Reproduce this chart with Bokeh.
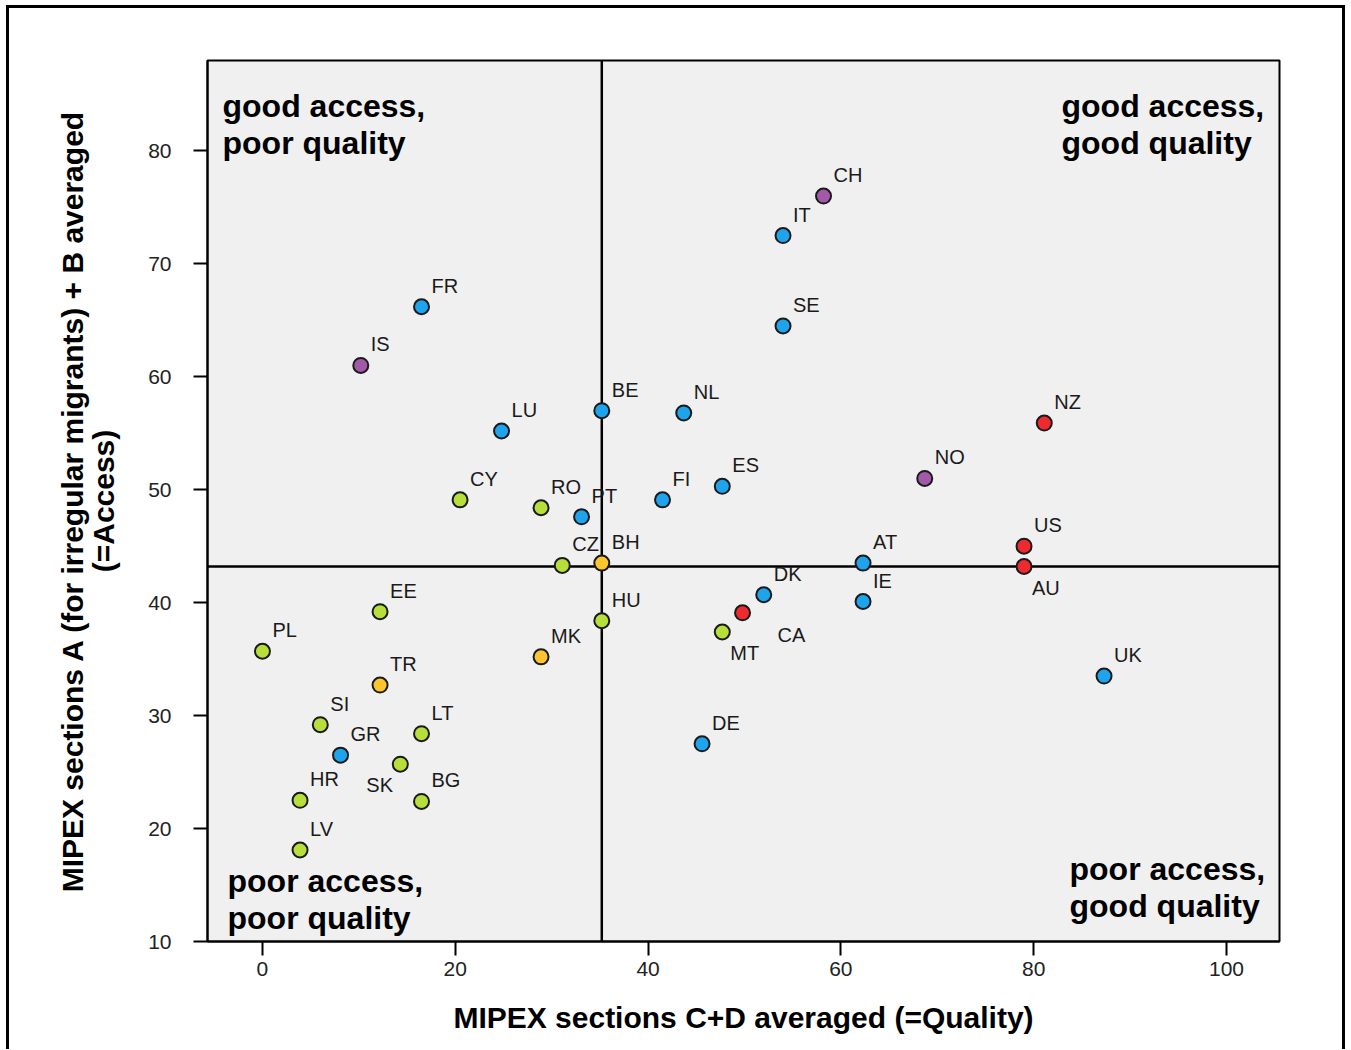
from bokeh.plotting import figure
from bokeh.models import Range1d, FixedTicker, ColumnDataSource, Span
from bokeh.core.properties import value
from bokeh.embed import file_html
from bokeh.resources import INLINE

# ---- data ----
countries = ["CH", "IT", "SE", "FR", "IS", "BE", "NL", "LU", "NZ", "NO",
             "ES", "FI", "CY", "RO", "PT", "US", "AT", "CZ", "BH", "AU",
             "DK", "IE", "EE", "CA", "HU", "MT", "PL", "MK", "UK", "TR",
             "SI", "LT", "GR", "DE", "SK", "HR", "BG", "LV"]
quality = [58.2, 54.0, 54.0, 16.5, 10.2, 35.2, 43.7, 24.8, 81.1, 68.7,
           47.7, 41.5, 20.5, 28.9, 33.1, 79.0, 62.3, 31.1, 35.2, 79.0,
           52.0, 62.3, 12.2, 49.8, 35.2, 47.7, 0.0, 28.9, 87.3, 12.2,
           6.0, 16.5, 8.1, 45.6, 14.3, 3.9, 16.5, 3.9]
access = [76.0, 72.5, 64.5, 66.2, 61.0, 57.0, 56.8, 55.2, 55.9, 51.0,
          50.3, 49.1, 49.1, 48.4, 47.6, 45.0, 43.5, 43.3, 43.5, 43.2,
          40.7, 40.1, 39.2, 39.1, 38.4, 37.4, 35.7, 35.2, 33.5, 32.7,
          29.2, 28.4, 26.5, 27.5, 25.7, 22.5, 22.4, 18.1]
group = ["purple", "blue", "blue", "blue", "purple", "blue", "blue", "blue", "red", "purple",
         "blue", "blue", "green", "green", "blue", "red", "blue", "green", "orange", "red",
         "blue", "blue", "green", "red", "green", "green", "green", "orange", "blue", "orange",
         "green", "green", "blue", "blue", "green", "green", "green", "green"]
quality_threshold = 35.2
access_threshold = 43.2
x_ticks = [0, 20, 40, 60, 80, 100]
y_ticks = [10, 20, 30, 40, 50, 60, 70, 80]
quadrant_texts = ["good access,\npoor quality", "good access,\ngood quality",
                  "poor access,\npoor quality", "poor access,\ngood quality"]

# ---- style ----
palette = {"blue": "#1ea4ec", "purple": "#a25aa8", "green": "#b6df3a",
           "orange": "#fdc52d", "red": "#ee2a30"}
FONT = "Liberation Sans"

X0, X1 = -5.7, 105.5
Y0, Y1 = 10.0, 88.0
FW, FH = 1072, 881
px_x = (X1 - X0) / FW
px_y = (Y1 - Y0) / FH

# label offsets in pixels (right, up); default up-right
label_off = {"AU": (8, -21), "MT": (8, -21), "CA": (35, -22), "SK": (-34, -21)}
lx, ly = [], []
for c, q, a in zip(countries, quality, access):
    dx, dy = label_off.get(c, (10, 21))
    lx.append(q + dx * px_x)
    ly.append(a + dy * px_y)

src = ColumnDataSource(dict(x=quality, y=access, c=[palette[g] for g in group],
                            name=countries, lx=lx, ly=ly))

p = figure(width=1339, height=1044, output_backend="svg", toolbar_location=None,
           x_range=Range1d(X0, X1), y_range=Range1d(Y0, Y1),
           min_border_left=198, min_border_right=69, min_border_top=52, min_border_bottom=111)
p.margin = (5, 0, 0, 6)
p.styles = {"border-top": "3px solid black", "border-left": "3px solid black",
            "border-right": "3px solid black", "box-sizing": "border-box"}
p.background_fill_color = "#f0f0f0"
p.border_fill_color = "white"
p.outline_line_color = "black"
p.outline_line_width = 2
p.xgrid.visible = False
p.ygrid.visible = False

p.xaxis.ticker = FixedTicker(ticks=x_ticks)
p.yaxis.ticker = FixedTicker(ticks=y_ticks)
for ax in (p.xaxis[0], p.yaxis[0]):
    ax.major_tick_out = 14
    ax.major_tick_in = 0
    ax.minor_tick_out = 0
    ax.minor_tick_in = 0
    ax.major_tick_line_width = 2
    ax.major_tick_line_color = "black"
    ax.axis_line_color = "black"
    ax.axis_line_width = 2
    ax.major_label_text_font = FONT
    ax.major_label_text_font_size = "21px"
    ax.major_label_text_color = "#222222"
    ax.axis_label_text_font = FONT
    ax.axis_label_text_font_size = "30px"
    ax.axis_label_text_font_style = "bold"
    ax.axis_label_text_color = "black"
    ax.axis_label_text_line_height = 0.93
p.xaxis.major_label_standoff = 6
p.yaxis.major_label_standoff = 22
p.xaxis.axis_label = "MIPEX sections C+D averaged (=Quality)"
p.xaxis.axis_label_standoff = 22
p.yaxis.axis_label = "MIPEX sections A (for irregular migrants) + B averaged\n(=Access)"
p.yaxis.axis_label_standoff = 25

p.add_layout(Span(location=quality_threshold, dimension="height", line_color="black",
                  line_width=2.5, level="underlay"))
p.add_layout(Span(location=access_threshold, dimension="width", line_color="black",
                  line_width=2.5, level="underlay"))

p.scatter("x", "y", source=src, size=15, fill_color="c", line_color="#1a1a1a", line_width=2)
p.text("lx", "ly", text="name", source=src, text_font=value(FONT), text_font_size="20px",
       text_color="#1a1a1a", text_align="left", text_baseline="middle")

# quadrant labels (pixel anchors converted to data)
qx = [X0 + 15 * px_x, X0 + 854 * px_x, X0 + 20 * px_x, X0 + 862 * px_x]
qy = [Y1 - 27 * px_y, Y1 - 27 * px_y, Y0 + 5 * px_y, Y0 + 17 * px_y]
qb = ["top", "top", "bottom", "bottom"]
for t, x, y, b in zip(quadrant_texts, qx, qy, qb):
    p.text(x=[x], y=[y], text=[t], text_font=value(FONT), text_font_size="32px",
           text_font_style="bold", text_color="black", text_align="left",
           text_baseline=b, text_line_height=1.05)

open("out.html", "w").write(file_html(p, INLINE))
